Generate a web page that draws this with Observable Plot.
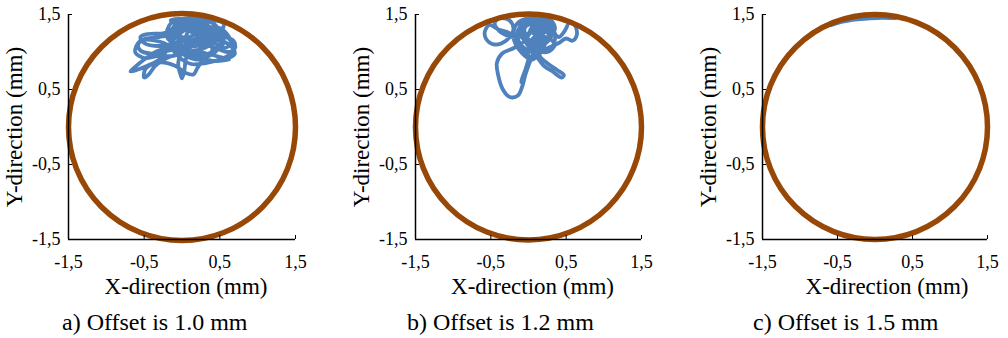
<!DOCTYPE html>
<html><head><meta charset="utf-8">
<script src="https://cdn.jsdelivr.net/npm/d3@7"></script>
<script src="https://cdn.jsdelivr.net/npm/@observablehq/plot@0.6"></script>
<style>
body{margin:0;background:#fff;}
#wrap{position:relative;width:1008px;height:338px;font-family:"Liberation Serif","Times New Roman",serif;}
.panel{position:absolute;top:0;width:336px;height:338px;}
.cap{position:absolute;top:309px;font-size:24px;line-height:26px;white-space:nowrap;color:#000;font-family:"Liberation Serif","Times New Roman",serif;}
</style></head><body><div id="wrap"></div>
<script>
// ---------- data ----------
const captions = ["a) Offset is 1.0 mm", "b) Offset is 1.2 mm", "c) Offset is 1.5 mm"];
const xTitle = "X-direction (mm)";
const yTitle = "Y-direction (mm)";
const xTicks = [-1.5, -0.5, 0.5, 1.5];
const xTickLabels = ["-1,5", "-0,5", "0,5", "1,5"];
const yTicks = [1.5, 0.5, -0.5, -1.5];
const yTickLabels = ["1,5", "0,5", "-0,5", "-1,5"];
const clearanceRadius = 1.5;           // brown boundary circle (mm), centred at 0,0

// blue trajectories (x, y in mm)
const path1 = [
[-0.05,1.42],[0.1,1.38],[0.3,1.35],[0.48,1.3],[0.6,1.2],[0.68,1.08],[0.65,0.98],[0.5,0.9],[0.3,0.85],[0.12,0.84],[0.0,0.9],[-0.1,1.0],[-0.2,1.1],[-0.35,1.15],[-0.5,1.16],[-0.58,1.1],[-0.55,1.02],[-0.42,0.98],[-0.25,1.0],[-0.05,1.05],[0.15,1.12],[0.35,1.2],[0.52,1.28],[0.55,1.38],[0.45,1.42],[0.25,1.4],[0.05,1.3],[-0.1,1.18],[-0.2,1.02],[-0.3,0.9],[-0.45,0.82],[-0.6,0.76],[-0.68,0.74],[-0.62,0.8],[-0.5,0.9],[-0.35,1.0],[-0.15,1.08],[0.05,1.15],[0.25,1.12],[0.45,1.05],[0.6,1.0],[0.7,1.05],[0.68,1.15],[0.55,1.2],[0.35,1.18],[0.15,1.1],[0.0,1.0],[-0.05,0.85],[-0.02,0.7],[0.0,0.65],[0.03,0.75],[0.05,0.9],[0.1,1.05],[0.2,1.2],[0.28,1.35],[0.2,1.43],[0.05,1.4],[-0.1,1.3],[-0.25,1.25],[-0.45,1.24],[-0.55,1.2],[-0.5,1.12],[-0.3,1.08],[-0.1,1.12],[0.1,1.2],[0.3,1.28],[0.45,1.22],[0.5,1.1],[0.42,0.98],[0.3,0.92],[0.2,0.78],[0.15,0.7],[0.05,0.72],[-0.1,0.82],[-0.3,0.86],[-0.48,0.78],[-0.5,0.66],[-0.44,0.7],[-0.35,0.82],[-0.2,0.92],[0.0,0.98],[0.2,1.0],[0.4,0.96],[0.6,0.92],[0.7,0.98],[0.62,1.1],[0.45,1.15],[0.25,1.05],[0.1,0.95],[0.0,1.1],[-0.05,1.25],[0.0,1.38],[0.15,1.3],[0.3,1.15],[0.4,1.05],[0.35,0.95],[0.2,0.9],[0.05,0.95],[-0.1,1.05],[-0.15,1.2],[-0.1,1.35],[0.1,1.42],[0.3,1.38],[0.4,1.28],[0.25,1.22],[0.1,1.28],[-0.05,1.35],[-0.15,1.42],[0.0,1.44],[0.2,1.36],[0.35,1.25],[0.2,1.15],[0.0,1.2],[-0.15,1.3],
[0.3,1.3],[0.5,1.25],[0.55,1.12],[0.4,1.0],[0.2,0.95],[0.0,1.02],[-0.12,1.15],[-0.05,1.3],[0.12,1.4],[0.3,1.42],[0.45,1.35],[0.5,1.2],[0.35,1.08],[0.15,1.02],[-0.05,1.08],[-0.2,1.2],[-0.15,1.38],[0.05,1.45],[0.25,1.45],[0.42,1.38],[0.38,1.2],[0.2,1.08],[0.05,1.12],[0.1,1.3],[0.25,1.32],[0.4,1.15],[0.55,1.05],[0.65,1.12],[0.5,1.32],[0.3,1.25],[0.1,1.15],[-0.1,1.22],[-0.3,1.2],[-0.55,1.15],[-0.62,1.0],[-0.5,0.92],[-0.3,0.95],[-0.1,0.95],[0.1,1.08],[0.25,1.18],[0.15,1.35],[-0.05,1.2],[0.05,1.0],[0.25,0.92],[0.45,0.88],[0.62,0.9]
];
const path2 = [
[0.0,1.45],[0.15,1.4],[0.3,1.3],[0.4,1.2],[0.48,1.28],[0.55,1.4],[0.62,1.35],[0.64,1.22],[0.58,1.15],[0.5,1.18],[0.4,1.12],[0.25,1.05],[0.1,1.0],[-0.05,1.05],[-0.15,1.15],[-0.25,1.25],[-0.4,1.3],[-0.52,1.36],[-0.58,1.27],[-0.56,1.17],[-0.45,1.1],[-0.3,1.15],[-0.2,1.3],[-0.25,1.42],[-0.38,1.45],[-0.45,1.38],[-0.35,1.25],[-0.15,1.2],[0.0,1.25],[0.2,1.35],[0.3,1.45],[0.2,1.42],[0.05,1.3],[-0.05,1.15],[-0.2,1.05],[-0.35,0.98],[-0.42,0.85],[-0.4,0.68],[-0.34,0.5],[-0.25,0.4],[-0.14,0.42],[-0.08,0.55],[-0.04,0.7],[0.0,0.82],[0.05,0.95],[0.1,1.1],[0.15,1.25],[0.1,1.38],[-0.05,1.4],[-0.12,1.3],[-0.05,1.15],[0.1,0.95],[0.2,0.82],[0.32,0.74],[0.44,0.66],[0.47,0.69],[0.38,0.76],[0.25,0.85],[0.15,0.95],[0.2,1.1],[0.3,1.2],[0.25,1.35],[0.1,1.45],[-0.05,1.4],[-0.15,1.25],[-0.1,1.08],[0.0,0.95],[-0.03,0.8],[-0.08,0.66],[-0.1,0.6],[-0.06,0.7],[0.0,0.85],[0.08,1.0],[0.2,1.15],[0.35,1.3],[0.3,1.42],[0.15,1.45],[0.0,1.38],[-0.1,1.22],[0.05,1.12],[0.22,1.2],[0.35,1.1],[0.25,1.0],[0.05,1.05],[-0.08,1.2],[-0.1,1.38],[0.05,1.45],
[0.05,1.3],[0.2,1.25],[0.25,1.38],[0.1,1.42],[-0.05,1.32],[0.0,1.15],[0.15,1.08],[0.28,1.18],[0.2,1.32],[0.05,1.38],[-0.1,1.28],[-0.15,1.12],[0.0,1.0],[0.15,1.15],[0.1,1.3],[-0.02,1.22],[0.12,1.05],[0.3,1.05],[0.35,1.25],[0.22,1.42],[0.02,1.45],[-0.15,1.38],[-0.2,1.2],[-0.1,1.0],[0.05,0.9],[0.15,1.0],[0.22,1.12],
[0.12,1.22],[0.02,1.28],[0.08,1.35],[0.18,1.28],[0.1,1.18],[-0.02,1.1],[0.08,1.2]
];
const path3 = [
[-0.58,1.36],[-0.45,1.4],[-0.3,1.43],[-0.1,1.445],[0.1,1.455],[0.28,1.45],[0.1,1.46],[-0.1,1.455],[-0.3,1.44],[-0.5,1.39]
];
const paths = [path1, path2, path3];

// ---------- layout ----------
const BLUE = "#4F81BD", BROWN = "#974706";
const FONT = "'Liberation Serif','Times New Roman',serif";
const layout = [
  {left: 0,   ml: 68, mr: 41, xdx: 4,  capLeft: 62},
  {left: 336, ml: 79, mr: 31, xdx: 4,  capLeft: 71},
  {left: 672, ml: 90, mr: 21, xdx: 12, capLeft: 81}
];
const W = 336, H = 305, MT = 14, MB = 66;

const wrap = document.getElementById("wrap");
layout.forEach((L, i) => {
  const innerW = W - L.ml - L.mr;
  const traj = paths[i].map(([x, y]) => ({x, y}));
  const boundary = [{x: 0, y: 0, r: clearanceRadius}];
  const fx = d => xTickLabels[xTicks.indexOf(d)];
  const fy = d => yTickLabels[yTicks.indexOf(d)];
  const chart = Plot.plot({
    width: W, height: H,
    marginLeft: L.ml, marginRight: L.mr, marginTop: MT, marginBottom: MB,
    style: {fontFamily: FONT, background: "transparent", overflow: "visible", color: "#000"},
    x: {domain: [-1.5, 1.5]},
    y: {domain: [-1.5, 1.5]},
    r: {type: "linear", domain: [0, 1.5], range: [0, innerW / 2]},
    marks: [
      Plot.line(traj, {x: "x", y: "y", stroke: BLUE, strokeWidth: 3.8, curve: "catmull-rom", strokeLinejoin: "round", strokeLinecap: "round"}),
      Plot.dot(boundary, {x: "x", y: "y", r: "r", stroke: BROWN, strokeWidth: 5.5, fill: "none"}),
      Plot.ruleX([-1.5], {stroke: "#000", strokeWidth: 1.5}),
      Plot.ruleY([-1.5], {stroke: "#000", strokeWidth: 1.5}),
      Plot.axisX(xTicks.slice(1), {tickSize: 4, dy: -4, fill: "none", label: null}),
      Plot.axisY(yTicks.slice(0, 3), {tickSize: 4, dx: 4, fill: "none", label: null}),
      Plot.axisX(xTicks, {tickSize: 0, tickPadding: 16, tickFormat: fx, fontSize: 18, fontFamily: FONT, label: null}),
      Plot.axisY(yTicks, {tickSize: 0, tickPadding: 8, tickFormat: fy, fontSize: 18, fontFamily: FONT, label: null}),
      Plot.text([xTitle], {text: d => d, frameAnchor: "bottom", dy: 54, dx: L.xdx, fontSize: 23, fontFamily: FONT, textAnchor: "middle"}),
      Plot.text([yTitle], {text: d => d, frameAnchor: "left", dx: -54, rotate: -90, fontSize: 23, fontFamily: FONT, textAnchor: "middle"})
    ]
  });
  const div = document.createElement("div");
  div.className = "panel";
  div.style.left = L.left + "px";
  div.appendChild(chart);
  const cap = document.createElement("div");
  cap.className = "cap";
  cap.style.left = L.capLeft + "px";
  cap.textContent = captions[i];
  div.appendChild(cap);
  wrap.appendChild(div);
});
</script></body></html>
